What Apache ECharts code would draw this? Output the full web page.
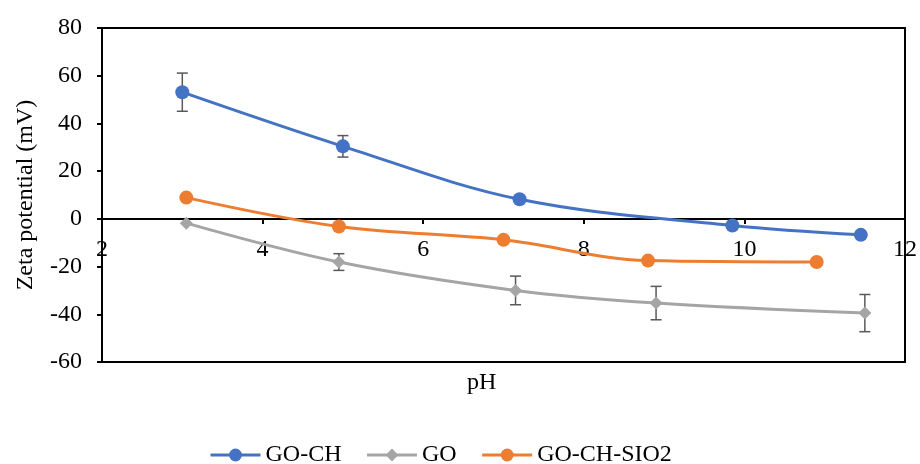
<!DOCTYPE html>
<html>
<head>
<meta charset="utf-8">
<script src="https://cdn.jsdelivr.net/npm/echarts@6/dist/echarts.min.js"></script>
<style>
  html, body { margin: 0; padding: 0; background: #fff; }
  #chart { width: 920px; height: 464px; }
</style>
</head>
<body>
<div id="chart"></div>
<script>
// values: [pH, zeta potential]
var goChData = [[3.0, 53.1], [5.0, 30.4], [7.2, 8.2], [9.85, -2.8], [11.45, -6.7]];
var goChErr = [8, 4.5, 0, 0, 0];
var goData = [[3.05, -1.8], [4.95, -18.1], [7.15, -30.0], [8.9, -35.3], [11.5, -39.5]];
var goErr = [0, 3.5, 6, 7, 7.8];
var goChSiData = [[3.05, 8.9], [4.95, -3.2], [7.0, -8.8], [8.8, -17.5], [10.9, -18.1]];
var seriesNames = ['GO-CH', 'GO', 'GO-CH-SIO2'];
var colors = ['#4472C4', '#A5A5A5', '#ED7D31'];

var font = '"Liberation Serif", "Times New Roman", serif';

function errRows(pts, err) {
  var rows = [];
  pts.forEach(function (p, i) {
    if (err[i] > 0) rows.push([p[0], p[1] - err[i], p[1] + err[i]]);
  });
  return rows;
}

function renderErr(params, api) {
  var lo = api.coord([api.value(0), api.value(1)]);
  var hi = api.coord([api.value(0), api.value(2)]);
  var w = 5.5;
  var style = { stroke: '#595959', lineWidth: 1.5 };
  return {
    type: 'group',
    children: [
      { type: 'line', shape: { x1: lo[0], y1: lo[1], x2: hi[0], y2: hi[1] }, style: style },
      { type: 'line', shape: { x1: lo[0] - w, y1: lo[1], x2: lo[0] + w, y2: lo[1] }, style: style },
      { type: 'line', shape: { x1: hi[0] - w, y1: hi[1], x2: hi[0] + w, y2: hi[1] }, style: style }
    ]
  };
}

var chart = echarts.init(document.getElementById('chart'));
var option = {
  animation: false,
  color: colors,
  textStyle: { fontFamily: font, color: '#000' },
  grid: {
    left: 102,
    right: 13,
    top: 28,
    bottom: 102,
    show: true,
    borderColor: '#000',
    borderWidth: 2
  },
  xAxis: {
    type: 'value',
    min: 2,
    max: 12,
    interval: 2,
    position: 'bottom',
    // axis drawn along y = 0 (334 * 60 / 140 px above the bottom)
    offset: -143,
    axisLine: { onZero: false, lineStyle: { color: '#000', width: 2 } },
    axisTick: { show: true, length: 5, lineStyle: { color: '#000', width: 2 } },
    axisLabel: { fontSize: 24, color: '#000', fontFamily: font, margin: 19 },
    splitLine: { show: false }
  },
  yAxis: {
    type: 'value',
    min: -60,
    max: 80,
    interval: 20,
    name: 'Zeta potential (mV)',
    nameLocation: 'middle',
    nameGap: 64,
    nameTextStyle: { fontSize: 24, color: '#000', fontFamily: font },
    axisLine: { show: true, onZero: false, lineStyle: { color: '#000', width: 2 } },
    axisTick: { show: true, length: 5, lineStyle: { color: '#000', width: 2 } },
    axisLabel: { fontSize: 24, color: '#000', fontFamily: font, margin: 20 },
    splitLine: { show: false }
  },
  legend: {
    data: seriesNames,
    left: 204,
    top: 438,
    itemWidth: 50,
    itemHeight: 16,
    itemGap: 24,
    lineStyle: { width: 3 },
    textStyle: { fontSize: 24, color: '#000', fontFamily: font }
  },
  graphic: [
    {
      type: 'text',
      left: 467,
      top: 371,
      style: { text: 'pH', font: '24px ' + font, fill: '#000' }
    }
  ],
  series: [
    {
      name: 'GO-CH', type: 'line', data: goChData, smooth: 0.35,
      symbol: 'circle', symbolSize: 14, z: 3,
      lineStyle: { width: 3 }
    },
    {
      name: 'GO', type: 'line', data: goData, smooth: 0.35,
      symbol: 'diamond', symbolSize: 13, z: 3,
      lineStyle: { width: 3 }
    },
    {
      name: 'GO-CH-SIO2', type: 'line', data: goChSiData, smooth: 0.35,
      symbol: 'circle', symbolSize: 14, z: 3,
      lineStyle: { width: 3 }
    },
    {
      type: 'custom', renderItem: renderErr, z: 2,
      data: errRows(goChData, goChErr), encode: { x: 0, y: [1, 2] }
    },
    {
      type: 'custom', renderItem: renderErr, z: 2,
      data: errRows(goData, goErr), encode: { x: 0, y: [1, 2] }
    }
  ]
};
chart.setOption(option);
window.addEventListener('resize', function () { chart.resize(); });
</script>
</body>
</html>
